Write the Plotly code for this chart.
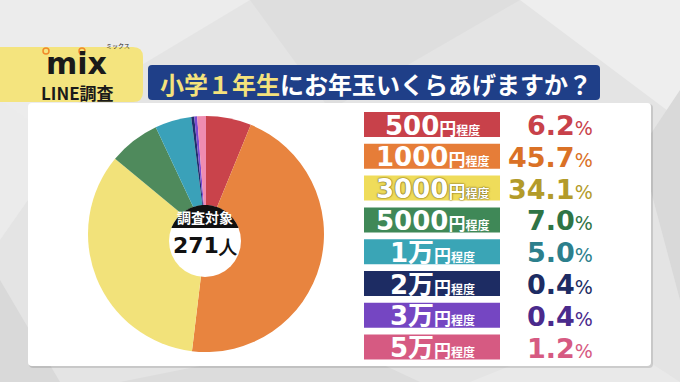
import numpy as np
import plotly.graph_objects as go

# ---- data ----
amount_main = ["500", "1000", "3000", "5000", "1万", "2万", "3万", "5万"]
amount_unit = ["円", "円", "円", "円", "円", "円", "円", "円"]
shares = [6.2, 45.7, 34.1, 7.0, 5.0, 0.4, 0.4, 1.2]
respondents = 271
title_hi = "小学１年生"
title_rest = "にお年玉いくらあげますか？"

slice_colors = ["#c9434b", "#e8843f", "#f2e27a", "#4f8a5c", "#3aa1b9", "#1f2f6b", "#7a4ad0", "#ef8cb0"]
box_colors = ["#c8414a", "#e67d38", "#efdc5a", "#3f8857", "#3aa5b6", "#1d2c63", "#7546c2", "#d65a82"]
pct_colors = ["#c8414a", "#da7126", "#b39b2a", "#2f7445", "#2c7f8c", "#1d2c63", "#4a2a8c", "#d65a82"]

W, H = 680, 382


def px(x):
    return x / W


def py(y):
    return 1 - y / H


def rrect(x0, y0, x1, y1, r):
    return (f"M{px(x0 + r)},{py(y0)} L{px(x1 - r)},{py(y0)} Q{px(x1)},{py(y0)} {px(x1)},{py(y0 + r)} "
            f"L{px(x1)},{py(y1 - r)} Q{px(x1)},{py(y1)} {px(x1 - r)},{py(y1)} "
            f"L{px(x0 + r)},{py(y1)} Q{px(x0)},{py(y1)} {px(x0)},{py(y1 - r)} "
            f"L{px(x0)},{py(y0 + r)} Q{px(x0)},{py(y0)} {px(x0 + r)},{py(y0)} Z")


def poly(pts):
    return "M" + " L".join(f"{px(a)},{py(b)}" for a, b in pts) + " Z"


shapes = []
# background facets
bg_polys = [
    ([(0, 0), (250, 0), (0, 150)], "#ececec"),
    ([(250, 0), (520, 0), (330, 110)], "#dedede"),
    ([(520, 0), (680, 0), (680, 120), (600, 60)], "#eeeeee"),
    ([(0, 100), (28, 120), (28, 200), (0, 240)], "#ebebeb"),
    ([(0, 280), (60, 382), (0, 382)], "#d9d9d9"),
    ([(120, 382), (330, 340), (420, 382)], "#dcdcdc"),
    ([(470, 382), (600, 330), (680, 382)], "#e9e9e9"),
    ([(640, 150), (680, 90), (680, 300)], "#d9d9d9"),
]
for pts, c in bg_polys:
    shapes.append(dict(type="path", path=poly(pts), fillcolor=c, line=dict(width=0), layer="below",
                       xref="paper", yref="paper"))

# white panel (shadow + panel)
shapes.append(dict(type="path", path=rrect(29, 104, 653, 368, 4), fillcolor="rgba(0,0,0,0.12)",
                   line=dict(width=0), layer="below", xref="paper", yref="paper"))
shapes.append(dict(type="path", path=rrect(28, 103, 651, 366, 4), fillcolor="#ffffff",
                   line=dict(width=0), layer="below", xref="paper", yref="paper"))

# logo box
shapes.append(dict(type="path", path=rrect(-10, 47, 143, 102, 10), fillcolor="#f4e47e",
                   line=dict(width=0), layer="below", xref="paper", yref="paper"))
# title box
shapes.append(dict(type="path", path=rrect(148, 65, 600, 100, 4), fillcolor="#1f3f88",
                   line=dict(width=0), layer="below", xref="paper", yref="paper"))

# pie center badge
cx, cy, r = 205, 241, 36
shapes.append(dict(type="circle", x0=px(cx - r), x1=px(cx + r), y0=py(cy + r), y1=py(cy - r),
                   fillcolor="#ffffff", line=dict(width=0), layer="above", xref="paper", yref="paper"))
t0 = np.arccos(13 / r)
ts = np.linspace(-t0, t0, 48)
seg = [(cx + r * np.sin(t), cy - r * np.cos(t)) for t in ts]
shapes.append(dict(type="path", path=poly(seg), fillcolor="#111111", line=dict(width=0), layer="above",
                   xref="paper", yref="paper"))

annotations = []
# logo
for (x, y), c in zip([(46, 51), (82, 51)], ["#f08a2a", "#f08a2a"]):
    shapes.append(dict(type="circle", x0=px(x - 3), x1=px(x + 3), y0=py(y + 3), y1=py(y - 3),
                       fillcolor="rgba(0,0,0,0)", line=dict(color=c, width=1.5), xref="paper", yref="paper"))
annotations.append(dict(x=px(76), y=py(64), text="<b>mix</b>", showarrow=False, xref="paper", yref="paper",
                        font=dict(family="DejaVu Sans", size=30, color="#1a1a1a"), xanchor="center", yanchor="middle"))
annotations.append(dict(x=px(118), y=py(46), text="ミックス", showarrow=False, xref="paper", yref="paper",
                        font=dict(family="Noto Sans CJK JP", size=6, color="#1a1a1a"), xanchor="center", yanchor="middle"))
annotations.append(dict(x=px(77), y=py(92), text="<b>LINE調査</b>", showarrow=False, xref="paper", yref="paper",
                        font=dict(family="Noto Sans CJK JP", size=17, color="#1a1a1a"), xanchor="center", yanchor="middle"))

# title
annotations.append(dict(x=px(376), y=py(83),
                        text=f"<b><span style='color:#f4e27c'>{title_hi}</span>{title_rest}</b>",
                        showarrow=False, xref="paper", yref="paper",
                        font=dict(family="Noto Sans CJK JP", size=24, color="#ffffff"),
                        xanchor="center", yanchor="middle"))

# badge texts
annotations.append(dict(x=px(cx), y=py(217), text="<b>調査対象</b>", showarrow=False, xref="paper", yref="paper",
                        font=dict(family="Noto Sans CJK JP", size=14, color="#ffffff"), xanchor="center", yanchor="middle"))
annotations.append(dict(x=px(cx + 1), y=py(245),
                        text=f"<b>{respondents}<span style='font-size:18px'>人</span></b>",
                        showarrow=False, xref="paper", yref="paper",
                        font=dict(family="DejaVu Sans", size=22, color="#111111"), xanchor="center", yanchor="middle"))

# legend rows
row0, pitch = 124.5, 31.8
for i, (m, u, v) in enumerate(zip(amount_main, amount_unit, shares)):
    yc = row0 + i * pitch
    shapes.append(dict(type="rect", x0=px(364), x1=px(500), y0=py(yc + 12.5), y1=py(yc - 12.5),
                       fillcolor=box_colors[i], line=dict(width=0), layer="below", xref="paper", yref="paper"))
    shadow = "0 0 2px #6b5a10, 0 0 1px #6b5a10" if i == 2 else "none"
    annotations.append(dict(
        x=px(432), y=py(yc + 1),
        text=f"<b>{m}<span style='font-size:17px'>{u}</span><span style='font-size:12px'>程度</span></b>",
        showarrow=False, xref="paper", yref="paper",
        font=dict(family="DejaVu Sans, Noto Sans CJK JP", size=26, color="#ffffff", shadow=shadow),
        xanchor="center", yanchor="middle"))
    annotations.append(dict(
        x=px(595), y=py(yc + 1),
        text=f"<b>{v:.1f}</b><span style='font-size:19px'>%</span>",
        showarrow=False, xref="paper", yref="paper",
        font=dict(family="DejaVu Sans", size=27, color=pct_colors[i]),
        xanchor="right", yanchor="middle"))

pcx, pcy, pr = 206, 234, 118
fig = go.Figure(go.Pie(
    labels=[m + u + "程度" for m, u in zip(amount_main, amount_unit)],
    values=shares,
    sort=False,
    direction="clockwise",
    rotation=0,
    marker=dict(colors=slice_colors, line=dict(width=0)),
    textinfo="none",
    hoverinfo="label+percent",
    showlegend=False,
    domain=dict(x=[px(pcx - pr), px(pcx + pr)], y=[py(pcy + pr), py(pcy - pr)]),
))

fig.update_layout(
    width=W, height=H,
    margin=dict(l=0, r=0, t=0, b=0),
    paper_bgcolor="#e4e4e4",
    plot_bgcolor="#e4e4e4",
    shapes=shapes,
    annotations=annotations,
    showlegend=False,
)

fig.write_html("out.html", config={"displayModeBar": False},
               post_script="document.body.style.margin='0';document.body.style.overflow='hidden';")
